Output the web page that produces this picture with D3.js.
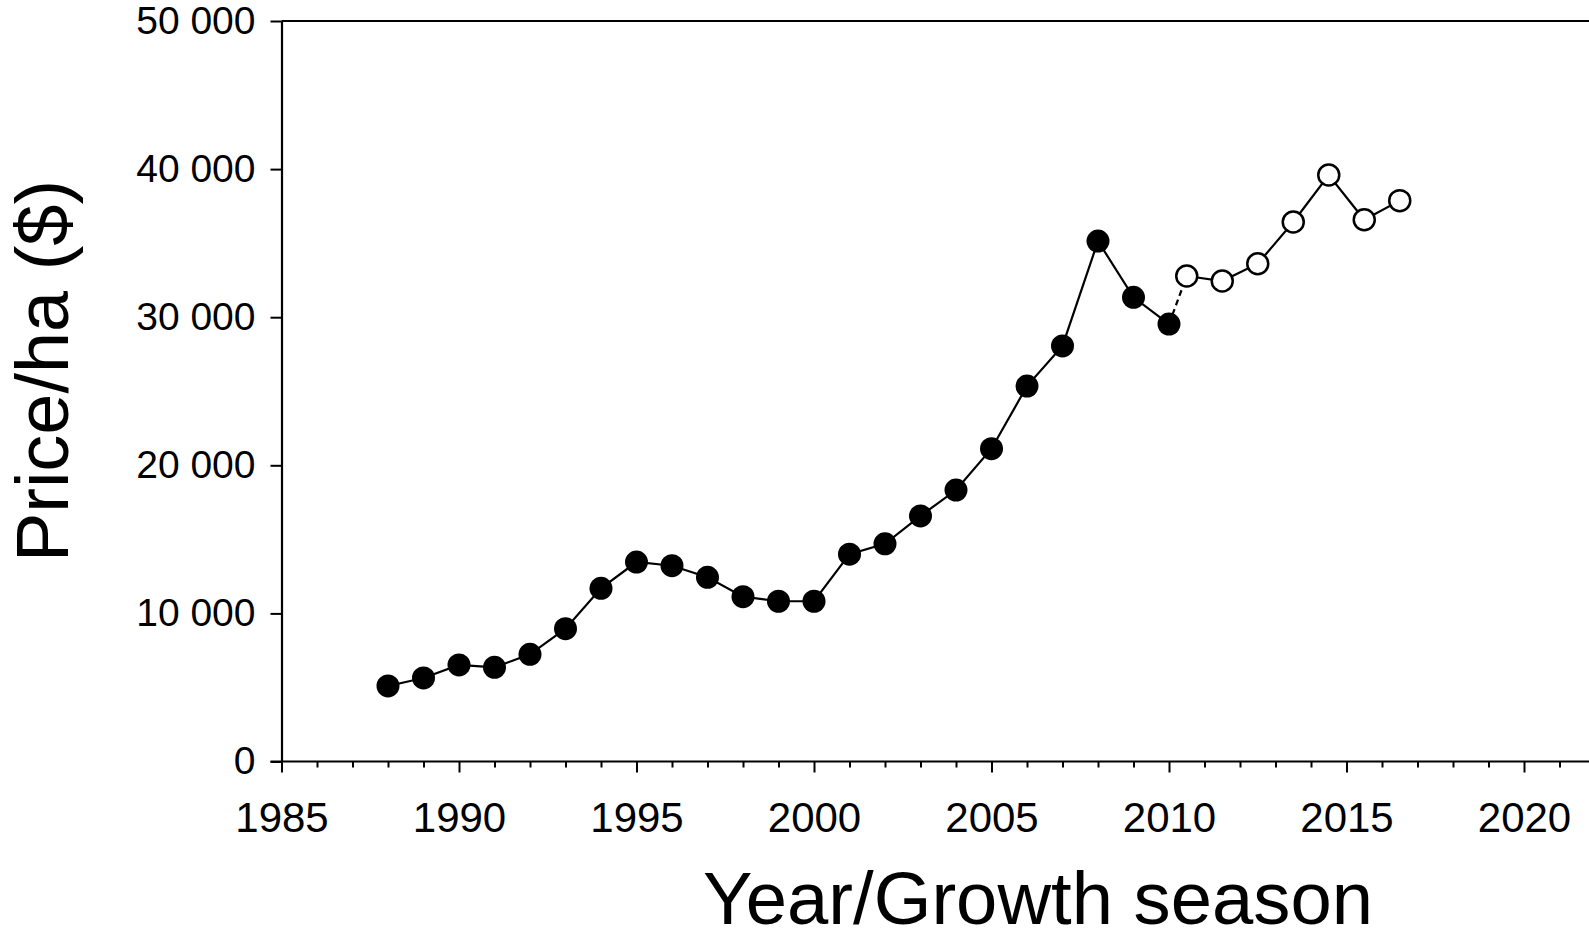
<!DOCTYPE html>
<html>
<head>
<meta charset="utf-8">
<script src="https://cdn.jsdelivr.net/npm/d3@7"></script>
<style>
  html, body { margin: 0; padding: 0; background: #fff; }
  svg { display: block; }
  text { font-family: "Liberation Sans", Arial, sans-serif; fill: #000; }
</style>
</head>
<body>
<svg id="chart" width="1589" height="941"></svg>
<script>
// Land price per hectare by year (filled) and by growth season (open)
const years = [1988, 1989, 1990, 1991, 1992, 1993, 1994, 1995, 1996, 1997, 1998, 1999,
               2000, 2001, 2002, 2003, 2004, 2005, 2006, 2007, 2008, 2009, 2010];
const yearPrices = [5100, 5640, 6520, 6360, 7240, 8970, 11690, 13470, 13220, 12440, 11130, 10820,
                    10820, 14000, 14700, 16580, 18330, 21120, 25350, 28060, 35140, 31340, 29540];

const seasons = [2010.5, 2011.5, 2012.5, 2013.5, 2014.5, 2015.5, 2016.5];
const seasonPrices = [32780, 32440, 33610, 36430, 39600, 36580, 37870];

const xMajorTicks = [1985, 1990, 1995, 2000, 2005, 2010, 2015, 2020];
const yTicks = [0, 10000, 20000, 30000, 40000, 50000];

const xTitle = "Year/Growth season";
const yTitle = "Price/ha ($)";

const svg = d3.select("#chart");

const x = d3.scaleLinear().domain([1985, 2022]).range([281.5, 1595]);
const y = d3.scaleLinear().domain([0, 50000]).range([761.5, 21]);

const fmt = v => d3.format(",")(v).replace(/,/g, " ");

// Minor ticks every year on the x axis
const xMinor = d3.range(1985, 2023).filter(v => v % 5 !== 0);
svg.append("g")
  .attr("transform", `translate(0,${y(0)})`)
  .call(d3.axisBottom(x).tickValues(xMinor).tickSize(6).tickFormat(""))
  .call(g => g.select(".domain").remove())
  .call(g => g.selectAll("line").attr("stroke", "#000").attr("stroke-width", 2));

// Major x axis
svg.append("g")
  .attr("transform", `translate(0,${y(0)})`)
  .call(d3.axisBottom(x).tickValues(xMajorTicks).tickSize(11).tickSizeOuter(0).tickPadding(30).tickFormat(d3.format("d")))
  .call(g => g.select(".domain").attr("stroke", "#000").attr("stroke-width", 2.2)
    .attr("d", `M${x(1985) - 11},0H1600`))
  .call(g => g.selectAll("line").attr("stroke", "#000").attr("stroke-width", 2))
  .call(g => g.selectAll("text").attr("font-size", 42).style("font-family", "'Liberation Sans', Arial, sans-serif"));

// Y axis
svg.append("g")
  .attr("transform", `translate(${x(1985)},0)`)
  .call(d3.axisLeft(y).tickValues(yTicks).tickSize(11).tickSizeOuter(0).tickPadding(15).tickFormat(fmt))
  .call(g => g.select(".domain").attr("stroke", "#000").attr("stroke-width", 2.2))
  .call(g => g.selectAll("line").attr("stroke", "#000").attr("stroke-width", 2))
  .call(g => g.selectAll("text").attr("font-size", 39).style("font-family", "'Liberation Sans', Arial, sans-serif"));

// Top frame line
svg.append("line")
  .attr("x1", x(1985)).attr("x2", 1600)
  .attr("y1", y(50000)).attr("y2", y(50000))
  .attr("stroke", "#000").attr("stroke-width", 2.2);

const line = d3.line().x(d => x(d[0])).y(d => y(d[1]));
const yearPts = years.map((v, i) => [v, yearPrices[i]]);
const seasonPts = seasons.map((v, i) => [v, seasonPrices[i]]);

svg.append("path").datum(yearPts)
  .attr("d", line).attr("fill", "none").attr("stroke", "#000").attr("stroke-width", 2.2);

// Dashed link between the last yearly value and the first season value
svg.append("path").datum([yearPts[yearPts.length - 1], seasonPts[0]])
  .attr("d", line).attr("fill", "none").attr("stroke", "#000").attr("stroke-width", 2.2)
  .attr("stroke-dasharray", "6,4");

svg.append("path").datum(seasonPts)
  .attr("d", line).attr("fill", "none").attr("stroke", "#000").attr("stroke-width", 2.2);

svg.append("g").selectAll("circle").data(yearPts).join("circle")
  .attr("cx", d => x(d[0])).attr("cy", d => y(d[1])).attr("r", 11.5)
  .attr("fill", "#000");

svg.append("g").selectAll("circle").data(seasonPts).join("circle")
  .attr("cx", d => x(d[0])).attr("cy", d => y(d[1])).attr("r", 10.5)
  .attr("fill", "#fff").attr("stroke", "#000").attr("stroke-width", 2.5);

// Axis titles
svg.append("text")
  .attr("x", 1038).attr("y", 924)
  .attr("text-anchor", "middle")
  .attr("font-size", 74)
  .attr("textLength", 670).attr("lengthAdjust", "spacingAndGlyphs")
  .text(xTitle);

svg.append("text")
  .attr("transform", `translate(68,371) rotate(-90)`)
  .attr("text-anchor", "middle")
  .attr("font-size", 74)
  .attr("textLength", 382).attr("lengthAdjust", "spacingAndGlyphs")
  .text(yTitle);
</script>
</body>
</html>
